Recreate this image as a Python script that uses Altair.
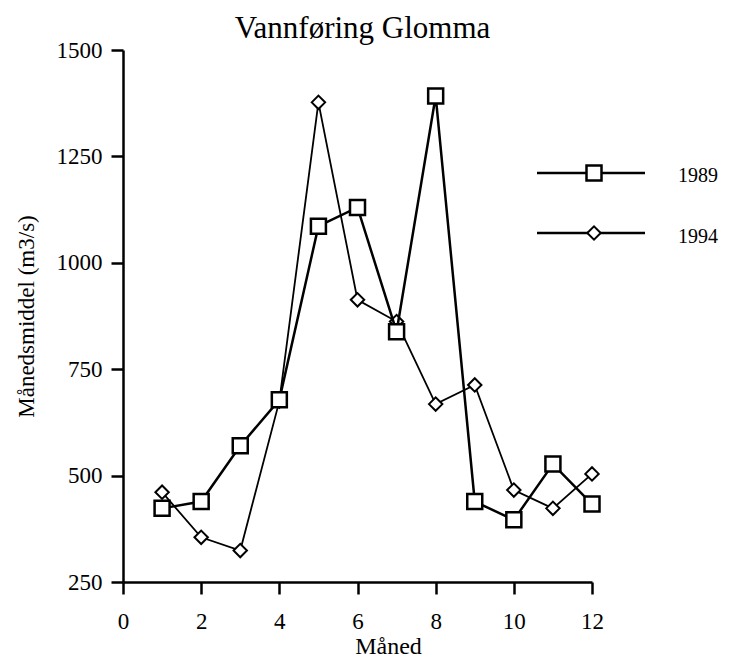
import altair as alt
import pandas as pd

# ---- data ----
months = list(range(1, 13))
flow_1989 = [423, 439, 570, 678, 1086, 1130, 838, 1392, 439, 396, 527, 433]
flow_1994 = [461, 355, 324, 675, 1377, 913, 862, 668, 713, 466, 423, 504]
series = ["1989", "1994"]
x_ticks = [0, 2, 4, 6, 8, 10, 12]
y_ticks = [250, 500, 750, 1000, 1250, 1500]
chart_title = "Vannføring Glomma"

df = pd.DataFrame({
    "month": months + months,
    "flow": flow_1989 + flow_1994,
    "year": [series[0]] * 12 + [series[1]] * 12,
})

FONT = "Liberation Serif"
W, H = 469, 532

x_enc = alt.X("month:Q",
              scale=alt.Scale(domain=[0, 12], nice=False, zero=False),
              axis=alt.Axis(values=x_ticks, title="Måned", grid=False, format="d",
                            labelFlush=False, labelOverlap=False,
                            tickSize=12, tickWidth=2.5, tickColor="black",
                            domainColor="black", domainWidth=2.5,
                            labelFont=FONT, labelFontSize=23, labelColor="black",
                            labelBaseline="alphabetic", labelPadding=34,
                            titleFont=FONT, titleFontSize=24, titleFontWeight="normal",
                            titleColor="black", titleX=265, titleY=71,
                            titleBaseline="alphabetic", titleAlign="center"))
y_enc = alt.Y("flow:Q",
              scale=alt.Scale(domain=[250, 1500], nice=False, zero=False),
              axis=alt.Axis(values=y_ticks, title="Månedsmiddel (m3/s)", grid=False,
                            format="d",
                            tickSize=12, tickWidth=2.5, tickColor="black",
                            domainColor="black", domainWidth=2.5,
                            labelFont=FONT, labelFontSize=23, labelColor="black",
                            labelPadding=9,
                            titleFont=FONT, titleFontSize=23, titleFontWeight="normal",
                            titleColor="black", titleX=-90, titleY=H / 2,
                            titleAngle=270, titleBaseline="alphabetic",
                            titleAlign="center"))

base = alt.Chart(df).encode(x=x_enc, y=y_enc)

line94 = base.transform_filter(alt.datum.year == series[1]).mark_line(
    color="black", strokeWidth=1.8)
pts94 = base.transform_filter(alt.datum.year == series[1]).mark_point(
    shape="diamond", size=180, filled=True, fill="white", stroke="black",
    strokeWidth=2, opacity=1)
line89 = base.transform_filter(alt.datum.year == series[0]).mark_line(
    color="black", strokeWidth=2.5)
pts89 = base.transform_filter(alt.datum.year == series[0]).mark_point(
    shape="square", size=225, filled=True, fill="white", stroke="black",
    strokeWidth=2.5, opacity=1)

one = pd.DataFrame({"k": [0]})

# ---- title as text ----
title_layer = alt.Chart(one).mark_text(
    font=FONT, fontSize=31, align="center", baseline="alphabetic", color="black").encode(
    x=alt.value(W / 2 + 5), y=alt.value(-12), text=alt.value(chart_title))

# ---- manual legend (line through marker, as in the reference) ----
legend_layers = []
for name, yy, ty, shape, size, lw in [
    (series[0], 123, 126, "square", 225, 2.5),
    (series[1], 183, 187, "diamond", 180, 2.0),
]:
    legend_layers.append(alt.Chart(one).mark_rule(color="black", strokeWidth=2.5).encode(
        x=alt.value(414), x2=alt.value(522), y=alt.value(yy)))
    legend_layers.append(alt.Chart(one).mark_point(
        shape=shape, size=size, filled=True, fill="white", stroke="black",
        strokeWidth=lw, opacity=1).encode(x=alt.value(471), y=alt.value(yy)))
    legend_layers.append(alt.Chart(one).mark_text(
        font=FONT, fontSize=20, align="left", baseline="middle", color="black").encode(
        x=alt.value(555), y=alt.value(ty), text=alt.value(name)))

chart = alt.layer(line94, pts94, line89, pts89, title_layer, *legend_layers).properties(
    width=W, height=H,
    autosize=alt.AutoSizeParams(type="none"),
    padding={"left": 115, "top": 42, "right": 129, "bottom": 77},
).configure(background="white").configure_view(stroke=None)

chart.save("out.html", embed_options={"renderer": "svg", "actions": False})
